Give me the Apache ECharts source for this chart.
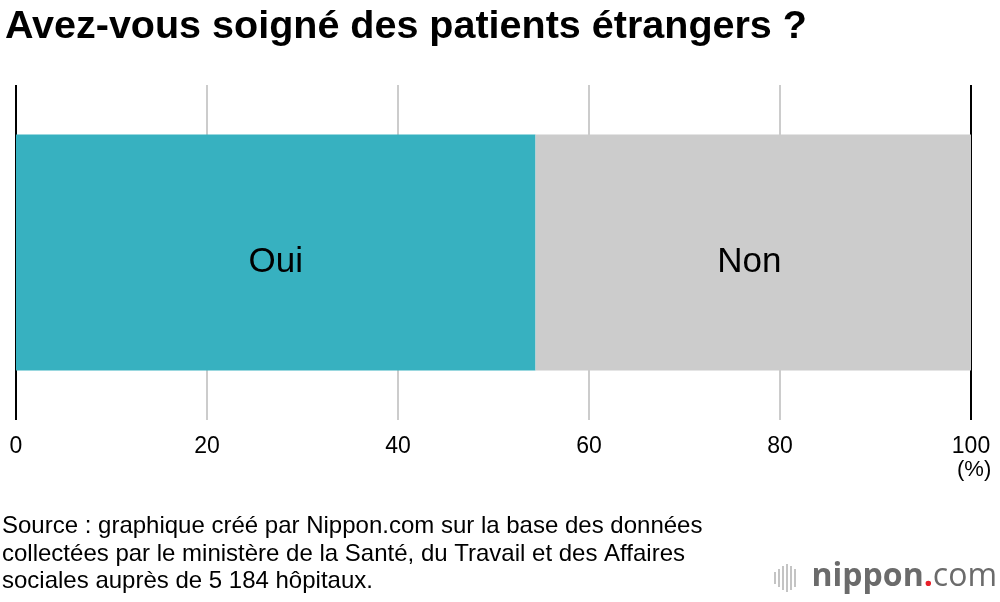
<!DOCTYPE html>
<html><head><meta charset="utf-8">
<script src="https://cdn.jsdelivr.net/npm/echarts@6/dist/echarts.min.js"></script>
<style>html,body{margin:0;padding:0;background:#fff}#c{width:1000px;height:602px}</style>
</head><body><div id="c"></div>
<script>
const categories = ['Hôpitaux'];
const ouiValues = [54.4];
const nonValues = [45.6];
const seriesNames = ['Oui', 'Non'];
const tickValues = [0, 20, 40, 60, 80, 100];

const F = '"Liberation Sans", Arial, Helvetica, sans-serif';
const chart = echarts.init(document.getElementById('c'));
const logoBars = [
  [774, 572, 12], [778, 569, 18], [782, 566, 24], [786, 564, 28], [790, 566, 24], [794, 569, 18]
];
chart.setOption({
  animation: false,
  textStyle: { fontFamily: F },
  title: {
    text: 'Avez-vous soigné des patients étrangers ?',
    left: 0, top: 2,
    textStyle: { fontSize: 39.5, fontWeight: 'bold', color: '#000', fontFamily: F }
  },
  grid: { left: 16, right: 29, top: 85, bottom: 182, containLabel: false },
  xAxis: {
    type: 'value', min: 0, max: 100, interval: 20,
    axisLine: { show: false }, axisTick: { show: false },
    axisLabel: { fontSize: 23, color: '#000', margin: 15, fontFamily: F },
    splitLine: { show: true, lineStyle: { color: ['#000', '#cccccc', '#cccccc', '#cccccc', '#cccccc', '#000'], width: 2 } }
  },
  yAxis: {
    type: 'category', data: categories,
    axisLine: { show: false }, axisTick: { show: false }, axisLabel: { show: false }
  },
  series: [
    {
      name: seriesNames[0], type: 'bar', stack: 't', data: ouiValues, barWidth: 236,
      itemStyle: { color: '#37b1c0' },
      label: { show: true, position: 'inside', offset: [0, 10], formatter: seriesNames[0], fontSize: 35, color: '#000', fontFamily: F }
    },
    {
      name: seriesNames[1], type: 'bar', stack: 't', data: nonValues, barWidth: 236,
      itemStyle: { color: '#cccccc' },
      label: { show: true, position: 'inside', offset: [-4, 10], formatter: seriesNames[1], fontSize: 35, color: '#000', fontFamily: F }
    }
  ],
  graphic: [
    { type: 'text', left: 957, top: 459, style: { text: '(%)', fontSize: 22, fill: '#000', fontFamily: F } },
    { type: 'text', left: 2, top: 513, style: {
      text: 'Source : graphique créé par Nippon.com sur la base des données\ncollectées par le ministère de la Santé, du Travail et des Affaires\nsociales auprès de 5 184 hôpitaux.',
      fontSize: 24, lineHeight: 27.5, fill: '#000', fontFamily: F } },
    ...logoBars.map(b => ({ type: 'rect', shape: { x: b[0], y: b[1], width: 2, height: b[2] }, style: { fill: '#c4c4c4' } })),
    { type: 'text', right: 3, top: 561, style: { rich: {
        a: { fontSize: 32, fontWeight: 'bold', fill: '#6b6b6b', fontFamily: '"Open Sans", sans-serif' },
        d: { fontSize: 32, fontWeight: 'bold', fill: '#e8202a', fontFamily: '"Open Sans", sans-serif' },
        c: { fontSize: 32, fill: '#6b6b6b', fontFamily: '"Open Sans", sans-serif' }
      }, text: '{a|nippon}{d|.}{c|com}' } }
  ]
});
</script></body></html>
